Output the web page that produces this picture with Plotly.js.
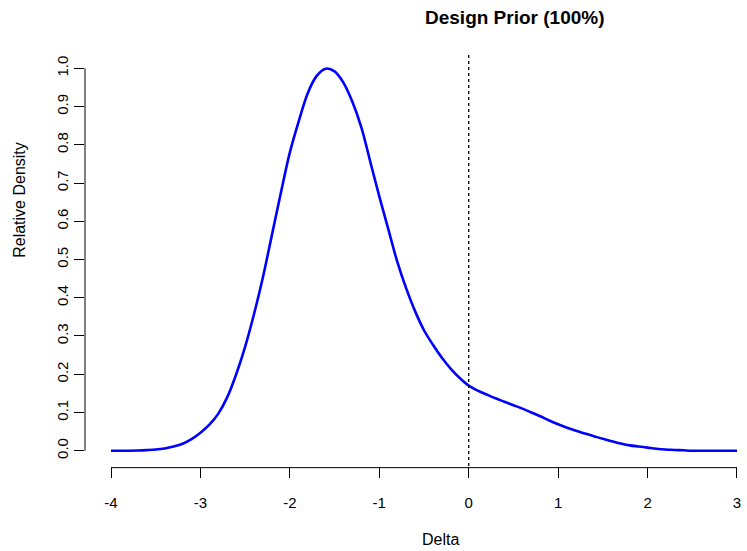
<!DOCTYPE html>
<html>
<head>
<meta charset="utf-8">
<script src="https://cdn.plot.ly/plotly-3.0.1.min.js"></script>
<style>html,body{margin:0;padding:0;background:#fff;}#chart{width:747px;height:551px;}</style>
</head>
<body>
<div id="chart"></div>
<script>
// Data
const delta = [-4.0,-3.9,-3.8,-3.7,-3.6,-3.5,-3.4,-3.3,-3.2,-3.1,-3.0,-2.9,-2.8,-2.7,-2.6,-2.5,-2.4,-2.3,-2.2,-2.1,-2.0,-1.9,-1.8,-1.7,-1.6,-1.5,-1.4,-1.3,-1.2,-1.1,-1.0,-0.9,-0.8,-0.7,-0.6,-0.5,-0.4,-0.3,-0.2,-0.1,0.0,0.1,0.2,0.3,0.4,0.5,0.6,0.7,0.8,0.9,1.0,1.1,1.2,1.3,1.4,1.5,1.6,1.7,1.8,1.9,2.0,2.1,2.2,2.3,2.4,2.5,2.6,2.7,2.8,2.9,3.0];
const relDensity = [0,0,0,0.0005,0.0015,0.003,0.006,0.011,0.018,0.030,0.047,0.068,0.097,0.140,0.200,0.272,0.358,0.455,0.565,0.675,0.780,0.862,0.935,0.980,0.999,0.992,0.962,0.912,0.845,0.755,0.665,0.580,0.495,0.425,0.365,0.315,0.277,0.243,0.214,0.190,0.170,0.157,0.147,0.137,0.128,0.119,0.110,0.100,0.090,0.079,0.069,0.060,0.052,0.045,0.038,0.031,0.025,0.019,0.014,0.011,0.008,0.005,0.003,0.002,0.001,0,0,0,0,0,0];
const xTicks = [-4,-3,-2,-1,0,1,2,3];
const xTickLabels = ["-4","-3","-2","-1","0","1","2","3"];
const yTicks = [0,0.1,0.2,0.3,0.4,0.5,0.6,0.7,0.8,0.9,1.0];
const yTickLabels = ["0.0","0.1","0.2","0.3","0.4","0.5","0.6","0.7","0.8","0.9","1.0"];
const refLineX = 0;
const titleText = "Design Prior (100%)";
const xLabel = "Delta";
const yLabel = "Relative Density";

const FONT = "Liberation Sans, Arial, Helvetica, sans-serif";

const trace = {
  x: delta, y: relDensity, type: "scatter", mode: "lines",
  line: {color: "#0000FF", width: 2.6, shape: "spline", smoothing: 1.0},
  hoverinfo: "skip", showlegend: false
};

const layout = {
  width: 747, height: 551,
  margin: {l: 85, r: 0, t: 53, b: 85, pad: 0},
  paper_bgcolor: "#fff", plot_bgcolor: "#fff",
  font: {family: FONT, size: 15, color: "#000"},
  showlegend: false,
  xaxis: {
    range: [-4.291, 3.112], showgrid: false, zeroline: false, showline: false, automargin: false,
    tickmode: "array", tickvals: xTicks, ticktext: xTickLabels,
    ticks: "outside", ticklen: 11, tickwidth: 1, tickcolor: "#000",
    tickfont: {family: FONT, size: 15, color: "#000"}, ticklabelstandoff: 12
  },
  yaxis: {
    range: [-0.04, 1.04], showgrid: false, zeroline: false, showline: false, automargin: false,
    tickmode: "array", tickvals: yTicks, ticktext: yTickLabels,
    ticks: "outside", ticklen: 10, tickwidth: 1, tickcolor: "#000", tickangle: -90,
    tickfont: {family: FONT, size: 15, color: "#000"}, ticklabelstandoff: 0
  },
  shapes: [
    {type: "line", xref: "paper", yref: "y", x0: 0, x1: 0, y0: yTicks[0], y1: yTicks[yTicks.length-1], line: {color: "#000", width: 1}},
    {type: "line", xref: "x", yref: "paper", x0: xTicks[0], x1: xTicks[xTicks.length-1], y0: -0.004, y1: -0.004, line: {color: "#000", width: 1}},
    {type: "line", xref: "x", yref: "paper", x0: refLineX, x1: refLineX, y0: 0, y1: 1, line: {color: "#000", width: 1.3, dash: "dot"}}
  ],
  annotations: [
    {text: "<b>" + titleText + "</b>", xref: "paper", yref: "paper", x: 0.6495, y: 1.0863, xanchor: "center", yanchor: "middle", showarrow: false, font: {family: FONT, size: 19, color: "#000"}},
    {text: xLabel, xref: "paper", yref: "paper", x: 0.537, y: -0.178, xanchor: "center", yanchor: "middle", showarrow: false, font: {family: FONT, size: 16, color: "#000"}},
    {text: yLabel, xref: "paper", yref: "paper", x: -0.1, y: 0.644, xanchor: "center", yanchor: "middle", textangle: -90, showarrow: false, font: {family: FONT, size: 16, color: "#000"}}
  ]
};

Plotly.newPlot("chart", [trace], layout, {displayModeBar: false, staticPlot: true});
</script>
</body>
</html>
